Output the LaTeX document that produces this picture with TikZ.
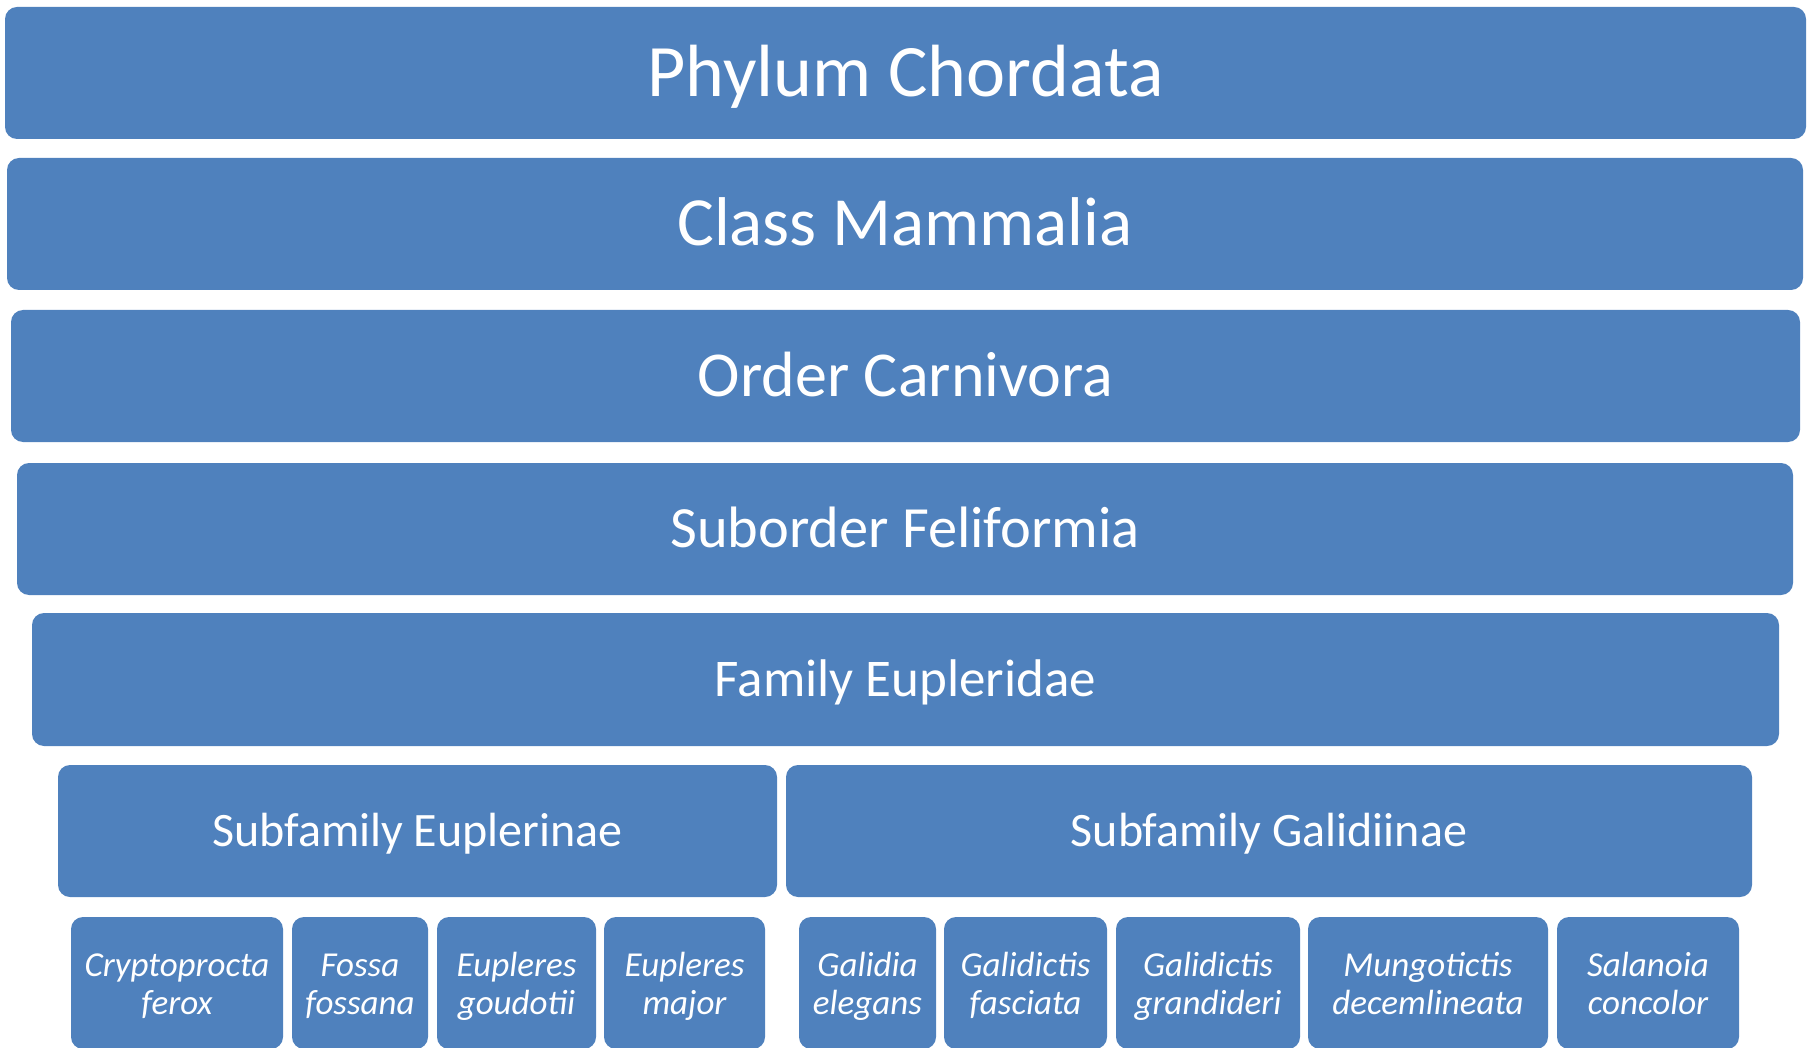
\documentclass[tikz,border=0pt]{standalone}
\usepackage{fontspec}
\setmainfont{Carlito}
\definecolor{boxblue}{HTML}{4F81BD}
\begin{document}
\begin{tikzpicture}[x=1pt,y=-1pt,
  box/.style={rectangle, rounded corners=12pt, fill=boxblue, draw=none, inner sep=0pt, text=white, minimum height=132pt, text depth=0pt},
  lvlA/.style={box, font=\fontsize{74}{80}\selectfont, text height=47pt},
  lvlB/.style={box, font=\fontsize{69}{76}\selectfont, text height=44pt},
  lvlC/.style={box, font=\fontsize{64}{70}\selectfont, text height=41pt},
  lvlD/.style={box, font=\fontsize{58.4}{65}\selectfont, text height=37pt},
  lvlE/.style={box, font=\fontsize{53}{59}\selectfont, text height=33pt},
  lvlF/.style={box, font=\fontsize{48}{54}\selectfont, text height=31pt},
  sp/.style={box},
  sptext/.style={inner sep=0pt, text=white, anchor=base, font=\fontsize{35}{38}\selectfont\itshape}
]
\useasboundingbox (0,0) rectangle (1810,1048);

\node[lvlA, minimum width=1801pt] (phylum) at (905.5,73) {Phylum Chordata};
\node[lvlB, minimum width=1796pt] (class) at (905,224) {Class Mammalia};
\node[lvlC, minimum width=1789pt] (order) at (905.5,376) {Order Carnivora};
\node[lvlD, minimum width=1776pt] (suborder) at (905,529) {Suborder Feliformia};
\node[lvlE, minimum width=1747pt, minimum height=133pt] (family) at (905.5,679.5) {Family Eupleridae};
\node[lvlF, minimum width=719pt] (subA) at (417.5,831) {Subfamily Euplerinae};
\node[lvlF, minimum width=966pt] (subB) at (1269,831) {Subfamily Galidiinae};

\node[sp, minimum width=212pt] (b1) at (177,983) {};
\node[sp, minimum width=136pt] (b2) at (360,983) {};
\node[sp, minimum width=159pt] (b3) at (516.5,983) {};
\node[sp, minimum width=161pt] (b4) at (684.5,983) {};
\node[sp, minimum width=137pt] (b5) at (867.5,983) {};
\node[sp, minimum width=163pt] (b6) at (1025.5,983) {};
\node[sp, minimum width=184pt] (b7) at (1208,983) {};
\node[sp, minimum width=240pt] (b8) at (1428,983) {};
\node[sp, minimum width=182pt] (b9) at (1648,983) {};

\node[sptext] (t1) at (b1.center |- 0,976) {\begin{tabular}[t]{@{}c@{}}Cryptoprocta\\ferox\end{tabular}};
\node[sptext] (t2) at (b2.center |- 0,976) {\begin{tabular}[t]{@{}c@{}}Fossa\\fossana\end{tabular}};
\node[sptext] (t3) at (b3.center |- 0,976) {\begin{tabular}[t]{@{}c@{}}Eupleres\\goudotii\end{tabular}};
\node[sptext] (t4) at (b4.center |- 0,976) {\begin{tabular}[t]{@{}c@{}}Eupleres\\major\end{tabular}};
\node[sptext] (t5) at (b5.center |- 0,976) {\begin{tabular}[t]{@{}c@{}}Galidia\\elegans\end{tabular}};
\node[sptext] (t6) at (b6.center |- 0,976) {\begin{tabular}[t]{@{}c@{}}Galidictis\\fasciata\end{tabular}};
\node[sptext] (t7) at (b7.center |- 0,976) {\begin{tabular}[t]{@{}c@{}}Galidictis\\grandideri\end{tabular}};
\node[sptext] (t8) at (b8.center |- 0,976) {\begin{tabular}[t]{@{}c@{}}Mungotictis\\decemlineata\end{tabular}};
\node[sptext] (t9) at (b9.center |- 0,976) {\begin{tabular}[t]{@{}c@{}}Salanoia\\concolor\end{tabular}};
\end{tikzpicture}
\end{document}
